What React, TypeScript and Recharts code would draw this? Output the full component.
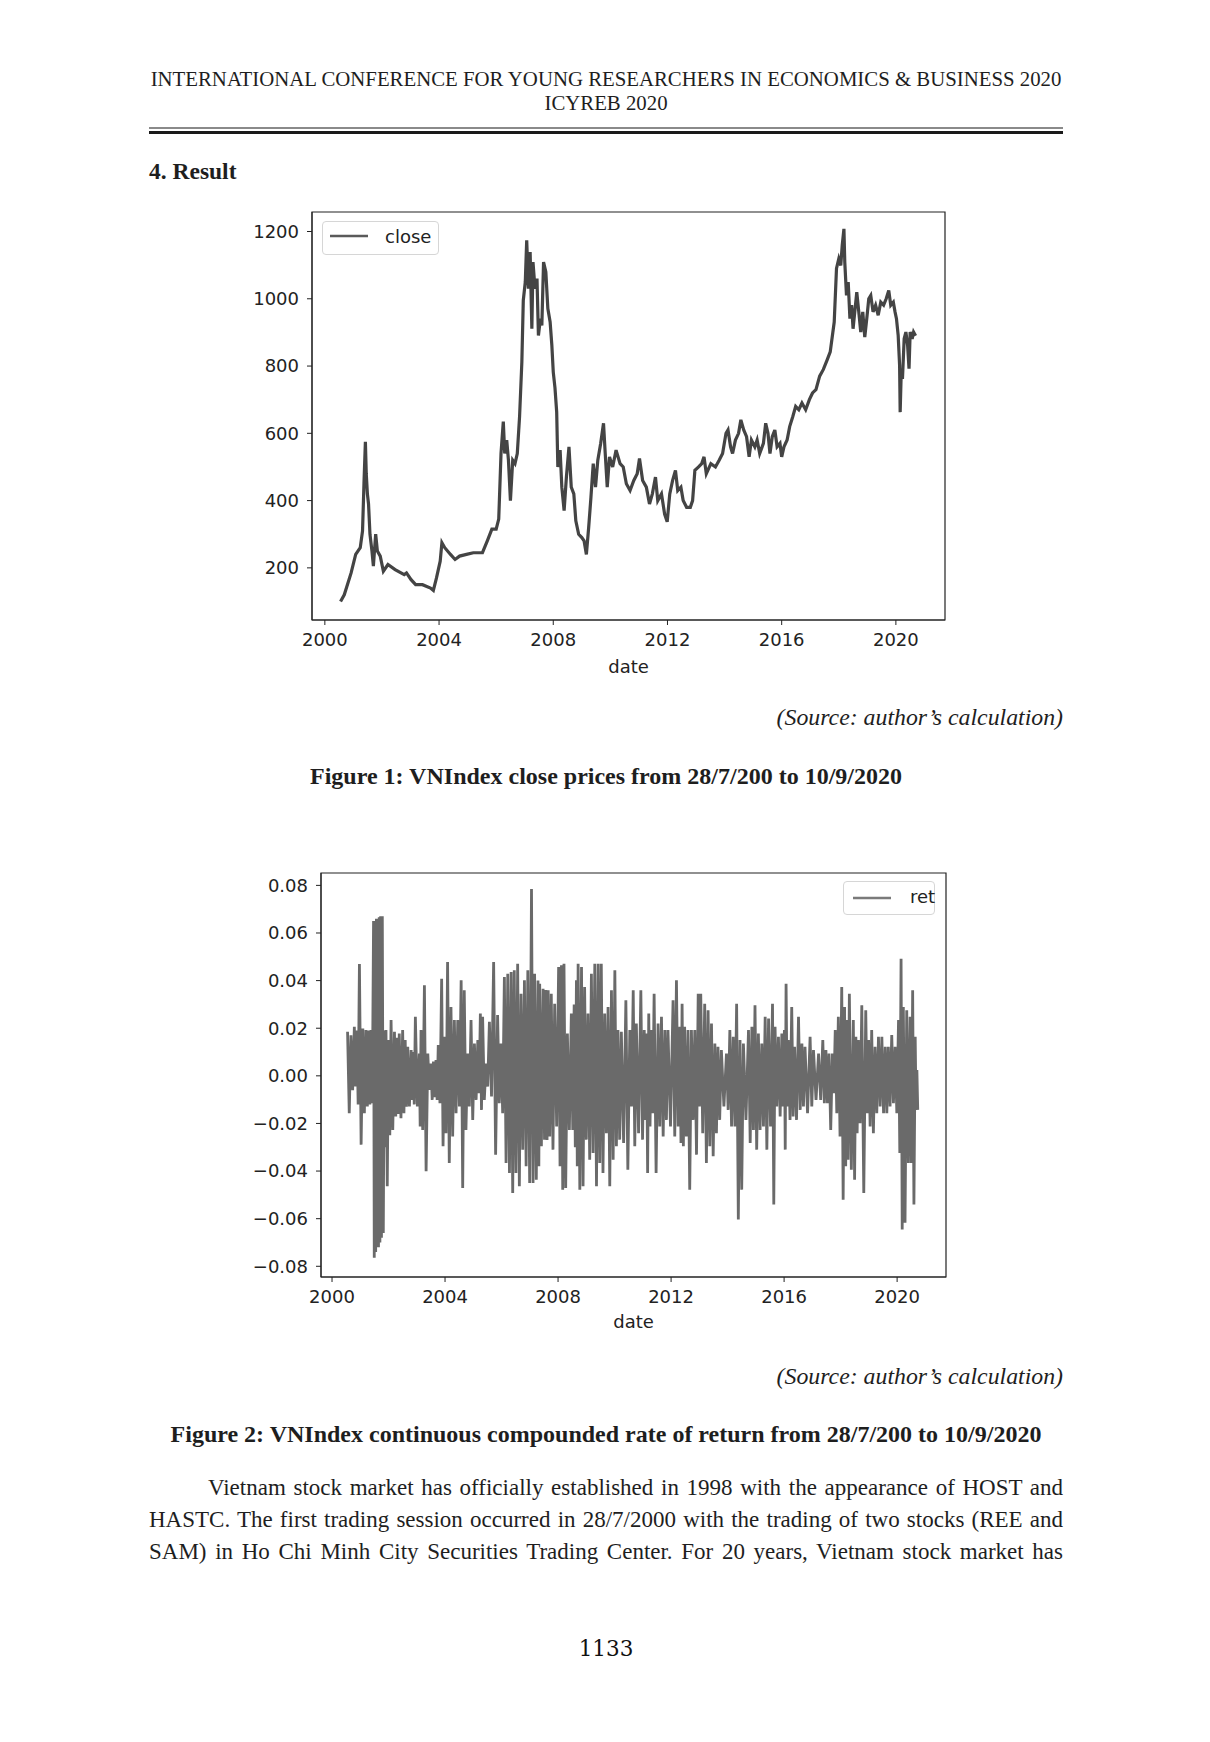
import { LineChart, Line, XAxis, YAxis, ReferenceArea, Legend } from 'recharts';

// VNIndex close price (decimal year, index points)
const closeDates = [
  2000.55, 2000.68, 2000.92, 2001.08, 2001.24, 2001.32, 2001.37, 2001.42, 2001.45, 2001.49,
  2001.53, 2001.58, 2001.65, 2001.7, 2001.78, 2001.84, 2001.94, 2002.05, 2002.21, 2002.46,
  2002.78, 2002.86, 2003.02, 2003.18, 2003.42, 2003.7, 2003.8, 2003.91, 2004.04, 2004.1,
  2004.2, 2004.4, 2004.56, 2004.72, 2004.96, 2005.2, 2005.52, 2005.69, 2005.85, 2006.0,
  2006.09, 2006.17, 2006.25, 2006.3, 2006.37, 2006.43, 2006.5, 2006.58, 2006.66, 2006.74,
  2006.82, 2006.9, 2006.95, 2007.02, 2007.07, 2007.13, 2007.19, 2007.25, 2007.29, 2007.36,
  2007.43, 2007.48, 2007.55, 2007.6, 2007.66, 2007.74, 2007.81, 2007.89, 2007.95, 2008.0,
  2008.06, 2008.12, 2008.16, 2008.24, 2008.3, 2008.38, 2008.46, 2008.55, 2008.63, 2008.72,
  2008.79, 2008.89, 2009.0, 2009.08, 2009.16, 2009.24, 2009.32, 2009.4, 2009.48, 2009.56,
  2009.66, 2009.76, 2009.82, 2009.89, 2009.97, 2010.08, 2010.2, 2010.34, 2010.45, 2010.56,
  2010.69, 2010.82, 2010.94, 2011.02, 2011.13, 2011.26, 2011.37, 2011.47, 2011.58, 2011.66,
  2011.79, 2011.9, 2011.99, 2012.08, 2012.18, 2012.28, 2012.36, 2012.47, 2012.55, 2012.67,
  2012.8, 2012.88, 2012.96, 2013.09, 2013.2, 2013.28, 2013.36, 2013.52, 2013.68, 2013.81,
  2013.93, 2014.05, 2014.12, 2014.21, 2014.28, 2014.38, 2014.49, 2014.57, 2014.67, 2014.77,
  2014.86, 2014.94, 2015.06, 2015.14, 2015.23, 2015.36, 2015.44, 2015.52, 2015.59, 2015.67,
  2015.76, 2015.84, 2015.94, 2016.0, 2016.08, 2016.19, 2016.28, 2016.39, 2016.49, 2016.6,
  2016.71, 2016.84, 2016.97, 2017.08, 2017.2, 2017.33, 2017.46, 2017.6, 2017.7, 2017.84,
  2017.92, 2018.0, 2018.07, 2018.12, 2018.18, 2018.21, 2018.27, 2018.33, 2018.39, 2018.45,
  2018.5, 2018.56, 2018.63, 2018.7, 2018.77, 2018.84, 2018.91, 2018.98, 2019.05, 2019.12,
  2019.2, 2019.29, 2019.38, 2019.47, 2019.57, 2019.66, 2019.75, 2019.82, 2019.91, 2019.97,
  2020.02, 2020.08, 2020.13, 2020.15, 2020.19, 2020.23, 2020.29, 2020.35, 2020.41, 2020.46,
  2020.5, 2020.57, 2020.62, 2020.69,
];
const closeValues = [
  100, 120, 185, 240, 260, 310, 450, 575, 480, 420,
  390, 300, 250, 205, 300, 250, 235, 190, 210, 195,
  180, 185, 165, 150, 150, 140, 133, 170, 220, 275,
  260, 240, 225, 235, 240, 245, 245, 280, 315, 315,
  345, 540, 635, 540, 580, 520, 400, 520, 510, 540,
  650, 812, 995, 1050, 1174, 1030, 1139, 911, 1109, 1030,
  1060, 891, 941, 921, 1109, 1080, 971, 931, 862, 782,
  735, 663, 500, 550, 440, 370, 470, 560, 440, 420,
  340, 300, 290, 280, 240, 320, 410, 510, 440, 520,
  570, 630, 540, 440, 530, 500, 550, 510, 500, 450,
  430, 460, 480, 525, 460, 440, 390, 420, 470, 400,
  420, 360, 337, 420, 460, 490, 430, 440, 400, 380,
  380, 400, 490, 500, 510, 530, 480, 510, 500, 520,
  540, 600, 610, 560, 540, 580, 600, 640, 610, 590,
  530, 580, 560, 580, 540, 570, 630, 600, 540, 590,
  610, 560, 570, 530, 560, 580, 620, 650, 680, 670,
  690, 670, 700, 720, 730, 770, 790, 820, 842, 931,
  1090, 1119, 1099, 1159, 1208, 1109, 1010, 1050, 941, 981,
  911, 961, 1020, 961, 901, 961, 886, 941, 1000, 1010,
  961, 981, 951, 990, 981, 1000, 1025, 981, 990, 961,
  941, 891, 802, 663, 792, 762, 881, 901, 862, 792,
  901, 881, 901, 890,
];

// continuously compounded return: spike top and bottom per time slice
const retDates = [
  2000.55, 2000.67, 2000.79, 2000.88, 2000.97, 2001.09, 2001.2, 2001.3, 2001.38, 2001.47,
  2001.52, 2001.57, 2001.62, 2001.67, 2001.72, 2001.78, 2001.85, 2001.91, 2002.0, 2002.09,
  2002.21, 2002.3, 2002.38, 2002.5, 2002.59, 2002.68, 2002.8, 2002.87, 2002.95, 2003.09,
  2003.15, 2003.27, 2003.39, 2003.5, 2003.59, 2003.68, 2003.76, 2003.88, 2003.98, 2004.09,
  2004.21, 2004.33, 2004.45, 2004.57, 2004.68, 2004.8, 2004.92, 2005.04, 2005.16, 2005.25,
  2005.33, 2005.45, 2005.57, 2005.72, 2005.86, 2005.98, 2006.1, 2006.22, 2006.34, 2006.45,
  2006.57, 2006.69, 2006.81, 2006.93, 2007.06, 2007.17, 2007.29, 2007.35, 2007.47, 2007.57,
  2007.65, 2007.76, 2007.88, 2008.02, 2008.12, 2008.21, 2008.33, 2008.47, 2008.57, 2008.65,
  2008.71, 2008.83, 2008.94, 2009.06, 2009.18, 2009.3, 2009.42, 2009.53, 2009.65, 2009.77,
  2009.89, 2010.01, 2010.12, 2010.24, 2010.4, 2010.54, 2010.66, 2010.77, 2010.93, 2011.05,
  2011.13, 2011.21, 2011.3, 2011.4, 2011.54, 2011.66, 2011.78, 2011.89, 2012.07, 2012.19,
  2012.31, 2012.39, 2012.48, 2012.6, 2012.72, 2012.84, 2012.96, 2013.05, 2013.19, 2013.31,
  2013.43, 2013.55, 2013.66, 2013.78, 2013.96, 2014.08, 2014.2, 2014.32, 2014.44, 2014.56,
  2014.74, 2014.86, 2014.97, 2015.09, 2015.21, 2015.33, 2015.45, 2015.59, 2015.68, 2015.8,
  2015.92, 2016.01, 2016.07, 2016.15, 2016.27, 2016.37, 2016.51, 2016.63, 2016.74, 2016.92,
  2017.04, 2017.22, 2017.37, 2017.48, 2017.59, 2017.71, 2017.81, 2017.92, 2018.04, 2018.14,
  2018.22, 2018.31, 2018.45, 2018.54, 2018.63, 2018.75, 2018.89, 2018.99, 2019.1, 2019.22,
  2019.34, 2019.46, 2019.58, 2019.69, 2019.81, 2019.93, 2020.05, 2020.14, 2020.22, 2020.34,
  2020.46, 2020.55, 2020.64, 2020.7,
];
const retHigh = [
  0.0185, 0.017, 0.0206, 0.019, 0.047, 0.0199, 0.0192, 0.019, 0.0192, 0.065,
  0.064, 0.066, 0.065, 0.0666, 0.067, 0.067, 0.019, 0.0192, 0.015, 0.0234,
  0.0185, 0.016, 0.0178, 0.0192, 0.015, 0.0122, 0.0108, 0.01, 0.0248, 0.0094,
  0.0192, 0.038, 0.0094, 0.0052, 0.006, 0.0066, 0.0129, 0.0408, 0.0164, 0.0478,
  0.0289, 0.0234, 0.0234, 0.0401, 0.0359, 0.0094, 0.0234, 0.0136, 0.015, 0.0262,
  0.0248, 0.0052, 0.0227, 0.0478, 0.0255, 0.0136, 0.0415, 0.0429, 0.0436, 0.0443,
  0.0471, 0.0345, 0.0401, 0.0443, 0.0785, 0.0429, 0.04, 0.0387, 0.0366, 0.036,
  0.0359, 0.0345, 0.0303, 0.0457, 0.0464, 0.0471, 0.0178, 0.0262, 0.03, 0.0401,
  0.0471, 0.0457, 0.0373, 0.0262, 0.0429, 0.0471, 0.0471, 0.0471, 0.0262, 0.0289,
  0.0359, 0.0443, 0.0192, 0.0185, 0.0317, 0.0192, 0.0359, 0.022, 0.0359, 0.0192,
  0.0178, 0.0262, 0.0192, 0.0345, 0.022, 0.0248, 0.0192, 0.0192, 0.0317, 0.0401,
  0.0206, 0.0303, 0.0206, 0.0192, 0.0192, 0.0192, 0.0345, 0.0345, 0.0303, 0.0275,
  0.022, 0.0136, 0.0122, 0.0108, 0.0094, 0.0192, 0.0164, 0.0303, 0.015, 0.0136,
  0.0192, 0.0206, 0.0296, 0.0178, 0.0136, 0.0248, 0.0241, 0.0303, 0.0206, 0.0164,
  0.0178, 0.0192, 0.0387, 0.015, 0.0289, 0.0122, 0.0248, 0.0136, 0.0122, 0.0164,
  0.0108, 0.0094, 0.015, 0.0108, 0.0094, 0.0094, 0.0192, 0.0248, 0.0373, 0.0289,
  0.0234, 0.0345, 0.0234, 0.0164, 0.015, 0.0296, 0.0275, 0.015, 0.0192, 0.0122,
  0.0164, 0.0164, 0.0122, 0.0122, 0.0171, 0.0122, 0.0234, 0.0492, 0.0289, 0.0275,
  0.0248, 0.0359, 0.0164, 0.0024,
];
const retLow = [
  -0.0157, -0.006, -0.0045, -0.012, -0.0289, -0.0157, -0.0129, -0.012, -0.0115, -0.0764,
  -0.074, -0.071, -0.072, -0.07, -0.068, -0.066, -0.03, -0.0464, -0.025, -0.0227,
  -0.0171, -0.016, -0.0178, -0.0157, -0.013, -0.0129, -0.0101, -0.012, -0.0129, -0.0213,
  -0.0227, -0.0401, -0.0059, -0.0101, -0.009, -0.0101, -0.0115, -0.0296, -0.0241, -0.0366,
  -0.0255, -0.0157, -0.0129, -0.0471, -0.0227, -0.0129, -0.0185, -0.0101, -0.0073, -0.0143,
  -0.0101, -0.0045, -0.0087, -0.0331, -0.0115, -0.0157, -0.0366, -0.0408, -0.0492, -0.0408,
  -0.0464, -0.031, -0.038, -0.045, -0.045, -0.0436, -0.038, -0.0296, -0.0268, -0.027,
  -0.0255, -0.031, -0.0213, -0.038, -0.0478, -0.0471, -0.0227, -0.0227, -0.03, -0.038,
  -0.0478, -0.0464, -0.0268, -0.0352, -0.0324, -0.0464, -0.0366, -0.0408, -0.0241, -0.0464,
  -0.0352, -0.0296, -0.0268, -0.0282, -0.0394, -0.0129, -0.0296, -0.0241, -0.0268, -0.0185,
  -0.0408, -0.0213, -0.0157, -0.0408, -0.0213, -0.0255, -0.0185, -0.0213, -0.0255, -0.0213,
  -0.0282, -0.0296, -0.0255, -0.0478, -0.0185, -0.0331, -0.0129, -0.0241, -0.0366, -0.0296,
  -0.0338, -0.0241, -0.0185, -0.0129, -0.0143, -0.0213, -0.0213, -0.0603, -0.0478, -0.0185,
  -0.0282, -0.0227, -0.031, -0.0227, -0.0213, -0.031, -0.0213, -0.054, -0.0129, -0.0171,
  -0.0129, -0.031, -0.0129, -0.0185, -0.0171, -0.0185, -0.0143, -0.0129, -0.0157, -0.0129,
  -0.0101, -0.0101, -0.0115, -0.0115, -0.0227, -0.0073, -0.0157, -0.0255, -0.052, -0.038,
  -0.0352, -0.0394, -0.0436, -0.0241, -0.0199, -0.0492, -0.0157, -0.0213, -0.0241, -0.0157,
  -0.0129, -0.0157, -0.0157, -0.0129, -0.0115, -0.0157, -0.0324, -0.0645, -0.0617, -0.0366,
  -0.0366, -0.054, -0.0143, -0.0143,
];

const yearTicks = [2000, 2004, 2008, 2012, 2016, 2020];
const closeTicks = [200, 400, 600, 800, 1000, 1200];
const retTicks = [-0.08, -0.06, -0.04, -0.02, 0, 0.02, 0.04, 0.06, 0.08];

const closeData = closeDates.map((d, i) => ({ date: d, close: closeValues[i] }));

// each slice: line goes up to the top, then down to the bottom halfway to the next slice
const retData = retDates.flatMap((d, i) => {
  const next = i < retDates.length - 1 ? retDates[i + 1] : d + 0.06;
  return [
    { date: d, ret: retHigh[i] },
    { date: (d + next) / 2, ret: retLow[i] },
  ];
});

const serif = '"Liberation Serif", "Times New Roman", serif';
const sans = '"DejaVu Sans", sans-serif';
const tickStyle = { fill: '#222', fontSize: 18, fontFamily: sans };

const fmtRet = (v: number) => (v < 0 ? '\u2212' + Math.abs(v).toFixed(2) : v.toFixed(2));

const LegendBox = ({ w, lineX, lineY, textX, label, color }: any) => (
  <div
    style={{
      boxSizing: 'border-box',
      width: w,
      height: 34,
      border: '1px solid #d6d6d6',
      borderRadius: 4,
      background: '#fff',
      position: 'relative',
      fontFamily: sans,
      fontSize: 18,
      color: '#222',
    }}
  >
    <svg style={{ position: 'absolute', left: lineX, top: 0 }} width={40} height={32}>
      <line x1={0} x2={38} y1={lineY} y2={lineY} stroke={color} strokeWidth={2.5} />
    </svg>
    <span style={{ position: 'absolute', left: textX, top: 5, lineHeight: '20px' }}>{label}</span>
  </div>
);

const Text = ({ top, left, width, align, size, weight, italic, children, h }: any) => (
  <div
    style={{
      position: 'absolute',
      top,
      left,
      width,
      height: h || 30,
      lineHeight: (h || 30) + 'px',
      textAlign: align || 'left',
      textAlignLast: align === 'justify' ? 'justify' : undefined,
      fontFamily: serif,
      fontSize: size,
      fontWeight: weight || 'normal',
      fontStyle: italic ? 'italic' : 'normal',
      color: '#1e1e1e',
    }}
  >
    {children}
  </div>
);

const App = () => {
  return (
    <div style={{ position: 'absolute', left: 0, top: 0, width: 1210, height: 1742, background: '#fff' }}>
      <Text top={64} left={120} width={972} align="center" size={20.8}>
        INTERNATIONAL CONFERENCE FOR YOUNG RESEARCHERS IN ECONOMICS &amp; BUSINESS 2020
      </Text>
      <Text top={88} left={149} width={914} align="center" size={20.8}>
        ICYREB 2020
      </Text>
      <div style={{ position: 'absolute', left: 149, top: 127, width: 914, height: 2, background: '#8a8a8a' }} />
      <div style={{ position: 'absolute', left: 149, top: 131, width: 914, height: 3, background: '#1a1a1a' }} />
      <Text top={156} left={149} width={300} size={23.5} weight="bold">
        4. Result
      </Text>

      <div style={{ position: 'absolute', left: 200, top: 190 }}>
        <LineChart width={800} height={500} data={closeData} margin={{ top: 22, right: 55, left: 52, bottom: 15 }}>
          <XAxis
            dataKey="date"
            type="number"
            domain={[1999.55, 2021.72]}
            ticks={yearTicks}
            allowDataOverflow
            tick={tickStyle}
            tickSize={5}
            tickMargin={8}
            height={55}
            axisLine={{ stroke: '#222' }}
            tickLine={{ stroke: '#222' }}
            label={{ value: 'date', position: 'insideBottom', offset: 2, fill: '#222', fontSize: 18, fontFamily: sans }}
          />
          <YAxis
            type="number"
            domain={[45, 1258]}
            ticks={closeTicks}
            allowDataOverflow
            tick={tickStyle}
            tickSize={5}
            tickMargin={8}
            width={60}
            axisLine={{ stroke: '#222' }}
            tickLine={{ stroke: '#222' }}
          />
          <ReferenceArea x1={1999.55} x2={2021.72} y1={45} y2={1258} fill="none" stroke="#222" strokeWidth={1.2} />
          <Line
            type="linear"
            dataKey="close"
            stroke="#444"
            strokeWidth={3.2}
            strokeLinejoin="miter"
            dot={false}
            isAnimationActive={false}
          />
          <Legend
            layout="horizontal"
            verticalAlign="middle"
            align="center"
            wrapperStyle={{ left: 122, top: 31, width: 117, height: 34 }}
            content={() => <LegendBox w={117} lineX={7} lineY={14} textX={62} label="close" color="#5a5a5a" />}
          />
        </LineChart>
      </div>

      <Text top={702} left={600} width={463} align="right" size={23.8} italic>
        (Source: author’s calculation)
      </Text>
      <Text top={761} left={149} width={914} align="center" size={24} weight="bold">
        Figure 1: VNIndex close prices from 28/7/200 to 10/9/2020
      </Text>

      <div style={{ position: 'absolute', left: 200, top: 850 }}>
        <LineChart width={800} height={500} data={retData} margin={{ top: 23, right: 54, left: 51, bottom: 18 }}>
          <XAxis
            dataKey="date"
            type="number"
            domain={[1999.61, 2021.73]}
            ticks={yearTicks}
            allowDataOverflow
            tick={tickStyle}
            tickSize={5}
            tickMargin={8}
            height={55}
            axisLine={{ stroke: '#222' }}
            tickLine={{ stroke: '#222' }}
            label={{ value: 'date', position: 'insideBottom', offset: 4, fill: '#222', fontSize: 18, fontFamily: sans }}
          />
          <YAxis
            type="number"
            domain={[-0.0845, 0.0852]}
            ticks={retTicks}
            allowDataOverflow
            tick={tickStyle}
            tickFormatter={fmtRet}
            tickSize={5}
            tickMargin={8}
            width={70}
            axisLine={{ stroke: '#222' }}
            tickLine={{ stroke: '#222' }}
          />
          <ReferenceArea x1={1999.61} x2={2021.73} y1={-0.0845} y2={0.0852} fill="none" stroke="#222" strokeWidth={1.2} />
          <Line
            type="linear"
            dataKey="ret"
            stroke="#6a6a6a"
            strokeWidth={2.8}
            dot={false}
            isAnimationActive={false}
          />
          <Legend
            layout="horizontal"
            verticalAlign="middle"
            align="center"
            wrapperStyle={{ left: 643, top: 31, width: 92, height: 34 }}
            content={() => <LegendBox w={92} lineX={9} lineY={16} textX={66} label="ret" color="#7a7a7a" />}
          />
        </LineChart>
      </div>

      <Text top={1361} left={600} width={463} align="right" size={23.8} italic>
        (Source: author’s calculation)
      </Text>
      <Text top={1419} left={120} width={972} align="center" size={24} weight="bold">
        Figure 2: VNIndex continuous compounded rate of return from 28/7/200 to 10/9/2020
      </Text>

      <Text top={1473} left={208} width={855} align="justify" size={23}>
        Vietnam stock market has officially established in 1998 with the appearance of HOST and
      </Text>
      <Text top={1505} left={149} width={914} align="justify" size={23}>
        HASTC. The first trading session occurred in 28/7/2000 with the trading of two stocks (REE and
      </Text>
      <Text top={1537} left={149} width={914} align="justify" size={23}>
        SAM) in Ho Chi Minh City Securities Trading Center. For 20 years, Vietnam stock market has
      </Text>

      <div
        style={{
          position: 'absolute',
          top: 1634,
          left: 506,
          width: 200,
          height: 30,
          lineHeight: '30px',
          textAlign: 'center',
          fontFamily: '"DejaVu Serif", serif',
          fontSize: 21.5,
          color: '#111',
        }}
      >
        1133
      </div>
    </div>
  );
};

export default App;
